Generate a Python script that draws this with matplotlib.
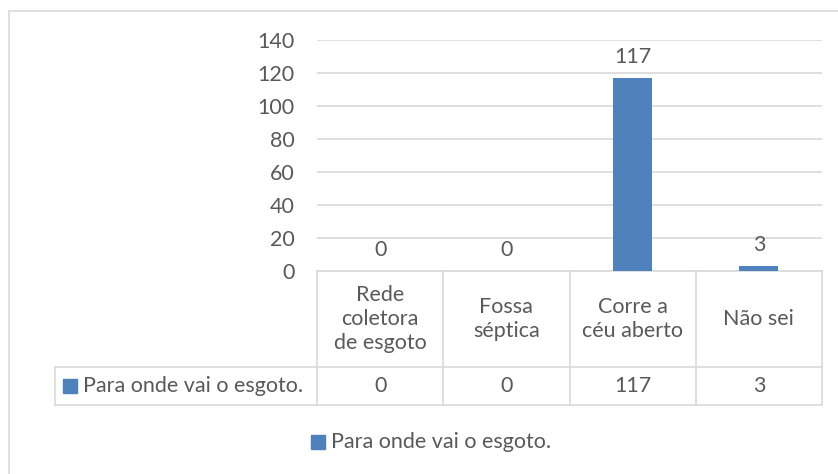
import matplotlib
matplotlib.use("Agg")
import matplotlib.pyplot as plt
import matplotlib.transforms as mtransforms
from matplotlib.patches import Rectangle

categories = ["Rede\ncoletora\nde esgoto", "Fossa\nséptica", "Corre a\ncéu aberto", "Não sei"]
values = [0, 0, 117, 3]
series_name = "Para onde vai o esgoto."
yticks = [0, 20, 40, 60, 80, 100, 120, 140]

bar_color = "#4F81BD"
text_color = "#595959"
grid_color = "#D9D9D9"
fs = 15.5

plt.rcParams["font.family"] = ["Lato", "DejaVu Sans"]
W, H = 838, 474
fig = plt.figure(figsize=(W / 100, H / 100), dpi=100)

# outer chart border
fig.add_artist(Rectangle((9 / W, -0.1), 1.2, 1 - 11 / H + 0.1, transform=fig.transFigure,
                         fill=False, edgecolor=grid_color, lw=1.2))

ax = fig.add_axes([317 / W, 1 - 271 / H, (822 - 317) / W, (271 - 40) / H])
x = list(range(len(categories)))
ax.bar(x, values, width=0.31, color=bar_color, zorder=3)
ax.set_xlim(-0.5, len(categories) - 0.5)
ax.set_ylim(0, 140)
ax.set_yticks(yticks)
ax.set_xticks([])
ax.tick_params(axis="y", length=0, pad=16, labelsize=fs, labelcolor=text_color)
ax.grid(axis="y", color=grid_color, lw=1.2, zorder=0)
for s in ax.spines.values():
    s.set_visible(False)

for xi, v in zip(x, values):
    ax.annotate(str(v), (xi, v), xytext=(0, 8), textcoords="offset points",
                ha="center", va="bottom", fontsize=fs, color=text_color)

# data table under the axis
tr = mtransforms.blended_transform_factory(ax.transData, ax.transAxes)
ah = 271 - 40
r1 = -(367 - 271) / ah
r2 = -(405 - 271) / ah
key_left = (55 - 317) / (822 - 317)
lk = dict(color=grid_color, lw=1.2, clip_on=False)
for b in [xi - 0.5 for xi in x] + [len(categories) - 0.5]:
    ax.plot([b, b], [0, r2], transform=tr, **lk)
ax.plot([-0.5, len(categories) - 0.5], [0, 0], transform=tr, **lk)
ax.plot([key_left, 1], [r1, r1], transform=ax.transAxes, **lk)
ax.plot([key_left, 1], [r2, r2], transform=ax.transAxes, **lk)
ax.plot([key_left, key_left], [r1, r2], transform=ax.transAxes, **lk)

for xi, c, v in zip(x, categories, values):
    ax.text(xi, r1 / 2, c, transform=tr, ha="center", va="center", fontsize=fs,
            color=text_color, linespacing=1.25)
    ax.text(xi, (r1 + r2) / 2, str(v), transform=tr, ha="center", va="center",
            fontsize=fs, color=text_color)

fig.add_artist(Rectangle((63 / W, 1 - 393 / H), 14 / W, 14 / H, transform=fig.transFigure,
                         color=bar_color))
fig.text(83 / W, 1 - 386 / H, series_name, ha="left", va="center", fontsize=fs, color=text_color)

# legend below
fig.add_artist(Rectangle((311 / W, 1 - 449 / H), 14 / W, 14 / H, transform=fig.transFigure,
                         color=bar_color))
fig.text(331 / W, 1 - 442 / H, series_name, ha="left", va="center", fontsize=fs, color=text_color)

fig.savefig("out.png", dpi=100)
